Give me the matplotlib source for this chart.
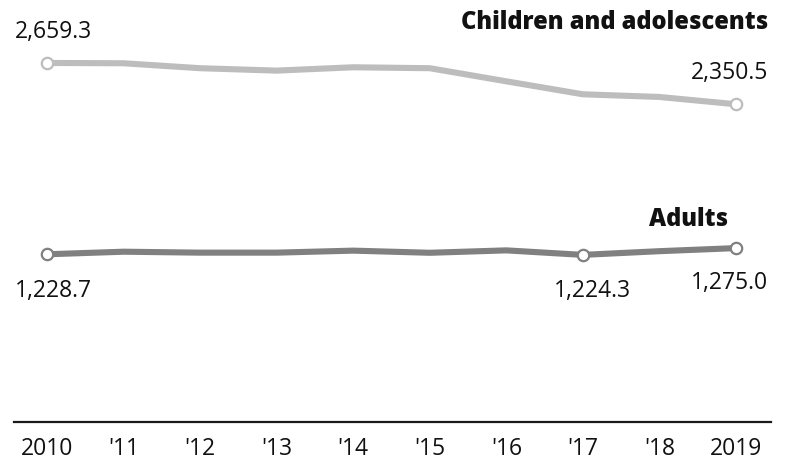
import matplotlib
matplotlib.use("Agg")
import matplotlib.pyplot as plt

plt.rcParams['font.family'] = ['Open Sans', 'DejaVu Sans']

years = [2010, 2011, 2012, 2013, 2014, 2015, 2016, 2017, 2018, 2019]
tick_labels = ["2010", "'11", "'12", "'13", "'14", "'15", "'16", "'17", "'18", "2019"]

children = [2659.3, 2657, 2620, 2602, 2627, 2620, 2522, 2425, 2405, 2350.5]
adults = [1228.7, 1248, 1241, 1241, 1256, 1240, 1258, 1224.3, 1252, 1275.0]

children_color = "#bdbdbd"
adults_color = "#808080"
text_color = "#111111"

PX = 72 / 100  # points per pixel at dpi 100

fig = plt.figure(figsize=(7.85, 4.62), dpi=100)
ax = fig.add_axes([14 / 785, 40.3 / 462, 757 / 785, 1 - 40.3 / 462])
ax.set_xlim(2010 - 33 / 76.56, 2019 + 35 / 76.56)
ax.set_ylim(-23, 3130)


def draw_series(values, color, marker_idx):
    ax.plot(years, values, color=color, lw=4.4, solid_joinstyle='round',
            solid_capstyle='round', zorder=2)
    ax.plot([years[i] for i in marker_idx], [values[i] for i in marker_idx],
            ls='none', marker='o', ms=8.2, mfc='white', mec=color, mew=1.6, zorder=3)


draw_series(children, children_color, [0, 9])
draw_series(adults, adults_color, [0, 7, 9])


def label(x, y, text, dx, dy, ha, weight='normal', size=16.5):
    ax.annotate(text, (x, y), xytext=(dx * PX, dy * PX), textcoords='offset points',
                ha=ha, va='center', fontsize=size, fontweight=weight, color=text_color)


# value labels
label(years[0], children[0], f"{children[0]:,.1f}", -32, 31, 'left')
label(years[9], children[9], f"{children[9]:,.1f}", 32, 31.5, 'right')
label(years[0], adults[0], f"{adults[0]:,.1f}", -32, -37, 'left')
label(years[7], adults[7], f"{adults[7]:,.1f}", 10, -36.5, 'center')
label(years[9], adults[9], f"{adults[9]:,.1f}", 32, -35, 'right')

# series names
label(years[9], children[9], "Children and adolescents", 32, 82, 'right', 'heavy', 17)
label(years[9], adults[9], "Adults", -8, 29, 'right', 'heavy', 17)

for side in ['left', 'right', 'top']:
    ax.spines[side].set_visible(False)
ax.spines['bottom'].set_color('#1a1a1a')
ax.spines['bottom'].set_linewidth(1.6)
ax.set_yticks([])
ax.set_xticks(years)
ax.set_xticklabels(tick_labels, fontsize=16.5, color=text_color)
ax.tick_params(axis='x', length=0, pad=11)

fig.savefig("out.png", dpi=100)
